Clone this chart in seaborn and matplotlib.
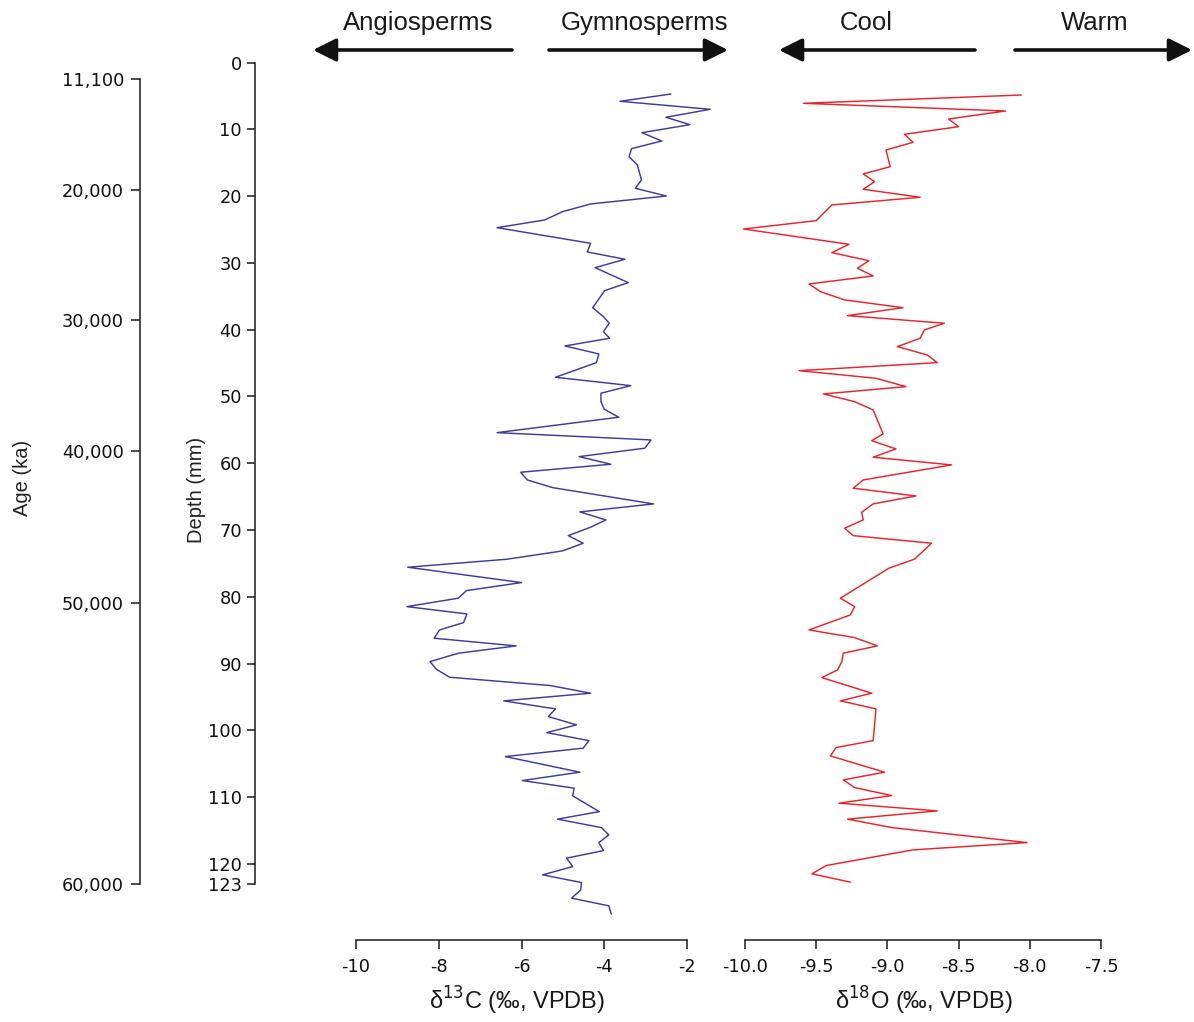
import matplotlib
matplotlib.use("Agg")
import matplotlib.pyplot as plt
import seaborn as sns
import pandas as pd

# ---------------- data ----------------
depth_c = [4.72, 5.81, 7.01, 8.20, 9.31, 10.51, 11.75, 12.90, 14.10, 15.34,
           17.59, 18.83, 19.99, 21.18, 22.34, 23.58, 24.73, 27.07, 28.37, 29.46,
           30.72, 32.96, 34.16, 36.71, 38.05, 39.04, 40.30, 41.29, 42.44, 43.64,
           44.94, 47.13, 48.38, 49.52, 50.78, 51.92, 53.11, 55.42, 56.51, 57.75,
           59.01, 60.15, 61.35, 62.50, 63.65, 66.09, 67.29, 68.49, 69.58, 70.84,
           71.98, 73.13, 74.37, 75.57, 77.87, 79.07, 80.21, 81.47, 82.56, 83.86,
           84.96, 86.20, 87.35, 88.44, 89.70, 90.84, 92.04, 93.29, 94.43, 95.58,
           96.78, 97.93, 99.18, 100.33, 101.53, 102.66, 103.92, 106.26, 107.51, 108.65,
           109.81, 112.16, 113.29, 114.55, 115.64, 116.80, 118.0, 119.13, 120.39, 121.63,
           122.78, 123.9, 125.12, 126.27, 127.51]
d13c = [-2.39, -3.62, -1.44, -2.51, -1.93, -3.09, -2.61, -3.34, -3.40, -3.20,
        -3.10, -3.25, -2.50, -4.33, -5.01, -5.44, -6.59, -4.33, -4.41, -3.50,
        -4.22, -3.42, -3.99, -4.28, -4.02, -3.88, -4.02, -3.87, -4.95, -4.13,
        -4.19, -5.18, -3.36, -4.08, -4.08, -4.00, -3.65, -6.59, -2.87, -3.02,
        -4.61, -3.84, -6.02, -5.86, -5.25, -2.81, -4.59, -3.96, -4.33, -4.87,
        -4.51, -5.01, -6.35, -8.75, -6.00, -7.33, -7.53, -8.77, -7.32, -7.40,
        -7.98, -8.11, -6.13, -7.52, -8.21, -8.06, -7.74, -5.30, -4.33, -6.43,
        -5.18, -5.35, -4.67, -5.39, -4.37, -4.51, -6.39, -4.59, -5.98, -4.73,
        -4.76, -4.12, -5.13, -4.07, -3.89, -4.13, -4.02, -4.91, -4.76, -5.49,
        -4.55, -4.57, -4.79, -3.89, -3.83]

depth_o = [4.87, 6.11, 7.26, 8.46, 9.61, 10.75, 11.95, 13.10, 15.60, 16.69,
           17.84, 18.98, 20.18, 21.33, 23.68, 24.93, 27.22, 28.47, 29.67, 30.81,
           31.96, 33.16, 34.31, 35.55, 36.71, 37.90, 39.04, 40.04, 41.29, 42.54,
           43.79, 44.94, 46.14, 47.28, 48.53, 49.63, 50.78, 52.02, 55.61, 56.62,
           57.86, 59.10, 60.25, 62.50, 63.74, 64.90, 66.09, 67.34, 68.49, 69.73,
           70.84, 71.98, 74.37, 75.72, 80.21, 81.47, 82.71, 84.96, 86.11, 87.35,
           88.44, 89.70, 90.94, 92.10, 94.43, 95.58, 96.78, 101.53, 102.57, 103.82,
           106.26, 107.41, 108.56, 109.76, 110.90, 112.05, 113.29, 114.55, 116.80, 117.89,
           120.24, 121.48, 122.72]
d18o = [-8.06, -9.59, -8.17, -8.57, -8.50, -8.88, -8.82, -9.01, -8.98, -9.17,
        -9.09, -9.17, -8.77, -9.39, -9.50, -10.01, -9.27, -9.39, -9.13, -9.21,
        -9.10, -9.55, -9.47, -9.30, -8.89, -9.28, -8.60, -8.74, -8.77, -8.93,
        -8.72, -8.65, -9.62, -9.08, -8.87, -9.45, -9.23, -9.10, -9.03, -9.11,
        -8.94, -9.10, -8.55, -9.17, -9.24, -8.80, -9.10, -9.18, -9.17, -9.30,
        -9.24, -8.69, -8.81, -8.99, -9.33, -9.23, -9.26, -9.55, -9.23, -9.07,
        -9.31, -9.32, -9.35, -9.46, -9.11, -9.33, -9.08, -9.10, -9.36, -9.40,
        -9.02, -9.31, -9.23, -8.97, -9.34, -8.65, -9.28, -8.97, -8.02, -8.82,
        -9.43, -9.53, -9.26]

depth_ticks = [0, 10, 20, 30, 40, 50, 60, 70, 80, 90, 100, 110, 120, 123]
age_labels = ["11,100", "20,000", "30,000", "40,000", "50,000", "60,000"]
age_tick_depth = [2.5, 19.1, 38.5, 58.2, 81.0, 123.0]
c_ticks = [-10, -8, -6, -4, -2]
o_ticks = [-10.0, -9.5, -9.0, -8.5, -8.0, -7.5]
o_tick_labels = ["-10.0", "-9.5", "-9.0", "-8.5", "-8.0", "-7.5"]
headings = ["Angiosperms", "Gymnosperms", "Cool", "Warm"]

df_c = pd.DataFrame({"depth": depth_c, "val": d13c})
df_o = pd.DataFrame({"depth": depth_o, "val": d18o})

# ---------------- styling ----------------
sns.set_theme(style="white")
plt.rcParams["font.family"] = ["DejaVu Sans"]

W, H = 1194, 1022
fig = plt.figure(figsize=(W / 100, H / 100), dpi=100)
fig.patch.set_facecolor("white")


def fx(px):
    return px / W


def fy(py):
    return 1 - py / H


y_top, y_bot = 62.5, 884.0
bottom = fy(y_bot)
height = fy(y_top) - fy(y_bot)
DMAX = 123
SPINE_C = "#1a1a1a"
TICK_FONT = dict(family="DejaVu Sans", size=12.8, color="#111111")
LABEL_FAMILY = ["Liberation Sans", "DejaVu Sans"]
PT = 0.72  # points per pixel at dpi 100

# ---- Age axis ----
ax_age = fig.add_axes([fx(140), bottom, fx(1), height])
ax_age.set_ylim(DMAX, 0)
ax_age.patch.set_alpha(0)
for s in ["top", "right", "bottom"]:
    ax_age.spines[s].set_visible(False)
ax_age.spines["left"].set_bounds(age_tick_depth[0], age_tick_depth[-1])
ax_age.spines["left"].set_color(SPINE_C)
ax_age.spines["left"].set_linewidth(1.1)
ax_age.set_xticks([])
ax_age.set_yticks(age_tick_depth)
ax_age.set_yticklabels(age_labels, **TICK_FONT)
ax_age.tick_params(axis="y", direction="out", length=9 * PT, width=1.1,
                   color=SPINE_C, pad=7 * PT, left=True)

# ---- δ13C axis (also carries depth axis) ----
ax_c = fig.add_axes([fx(356), bottom, fx(687) - fx(356), height])
ax_c.patch.set_alpha(0)
sns.lineplot(data=df_c, x="val", y="depth", orient="y", sort=False,
             estimator=None, color="#3c3c9e", linewidth=1.05, ax=ax_c,
             clip_on=False)
ax_c.set_xlim(-10, -2)
ax_c.set_ylim(DMAX, 0)
ax_c.set_xlabel("")
ax_c.set_ylabel("")
for s in ["top", "right"]:
    ax_c.spines[s].set_visible(False)
ax_c.spines["left"].set_position(("outward", (356 - 255) * PT))
ax_c.spines["left"].set_bounds(0, DMAX)
ax_c.spines["bottom"].set_position(("outward", (940 - y_bot) * PT))
ax_c.spines["bottom"].set_bounds(-10, -2)
for s in ["left", "bottom"]:
    ax_c.spines[s].set_color(SPINE_C)
    ax_c.spines[s].set_linewidth(1.1)
ax_c.set_yticks(depth_ticks)
ax_c.set_yticklabels([str(t) for t in depth_ticks], **TICK_FONT)
ax_c.set_xticks(c_ticks)
ax_c.set_xticklabels([str(t) for t in c_ticks], **TICK_FONT)
ax_c.tick_params(axis="y", direction="out", length=8 * PT, width=1.1,
                 color=SPINE_C, pad=5 * PT, left=True)
ax_c.tick_params(axis="x", direction="out", length=9 * PT, width=1.1,
                 color=SPINE_C, pad=9 * PT, bottom=True)

# ---- δ18O axis ----
ax_o = fig.add_axes([fx(745), bottom, fx(1101) - fx(745), height])
ax_o.patch.set_alpha(0)
sns.lineplot(data=df_o, x="val", y="depth", orient="y", sort=False,
             estimator=None, color="#e8232b", linewidth=1.05, ax=ax_o,
             clip_on=False)
ax_o.set_xlim(-10, -7.5)
ax_o.set_ylim(DMAX, 0)
ax_o.set_xlabel("")
ax_o.set_ylabel("")
for s in ["top", "right", "left"]:
    ax_o.spines[s].set_visible(False)
ax_o.spines["bottom"].set_position(("outward", (940 - y_bot) * PT))
ax_o.spines["bottom"].set_bounds(-10, -7.5)
ax_o.spines["bottom"].set_color(SPINE_C)
ax_o.spines["bottom"].set_linewidth(1.1)
ax_o.set_yticks([])
ax_o.set_xticks(o_ticks)
ax_o.set_xticklabels(o_tick_labels, **TICK_FONT)
ax_o.tick_params(axis="x", direction="out", length=9 * PT, width=1.1,
                 color=SPINE_C, pad=9 * PT, bottom=True)

# ---- axis titles ----
fig.text(fx(22), fy(478), "Age (ka)", rotation=90, ha="center", va="center",
         family=LABEL_FAMILY, fontsize=14.5, color="#222222")
fig.text(fx(196), fy(490), "Depth (mm)", rotation=90, ha="center", va="center",
         family=LABEL_FAMILY, fontsize=14.5, color="#222222")
fig.text(fx(517), fy(1001), "δ$^{13}$C (‰, VPDB)", ha="center", va="center",
         family=LABEL_FAMILY, fontsize=17, color="#1a1a1a")
fig.text(fx(924), fy(1001), "δ$^{18}$O (‰, VPDB)", ha="center", va="center",
         family=LABEL_FAMILY, fontsize=17, color="#1a1a1a")

# ---- top headings and arrows ----
head_x = [418, 645, 866, 1095]
for name, x in zip(headings, head_x):
    fig.text(fx(x), fy(23), name, ha="center", va="center",
             family=LABEL_FAMILY, fontsize=18.5, color="#1a1a1a")

arrows = [(512, 313), (549, 728), (975, 779), (1015, 1192)]
for x0, x1 in arrows:
    fig.add_artist(matplotlib.patches.FancyArrowPatch(
        (fx(x0), fy(50)), (fx(x1), fy(50)), transform=fig.transFigure,
        arrowstyle="-|>,head_length=1.0,head_width=0.5", mutation_scale=14,
        linewidth=2.6, color="#111111", shrinkA=0, shrinkB=0))

fig.savefig("out.png", dpi=100, facecolor="white")
